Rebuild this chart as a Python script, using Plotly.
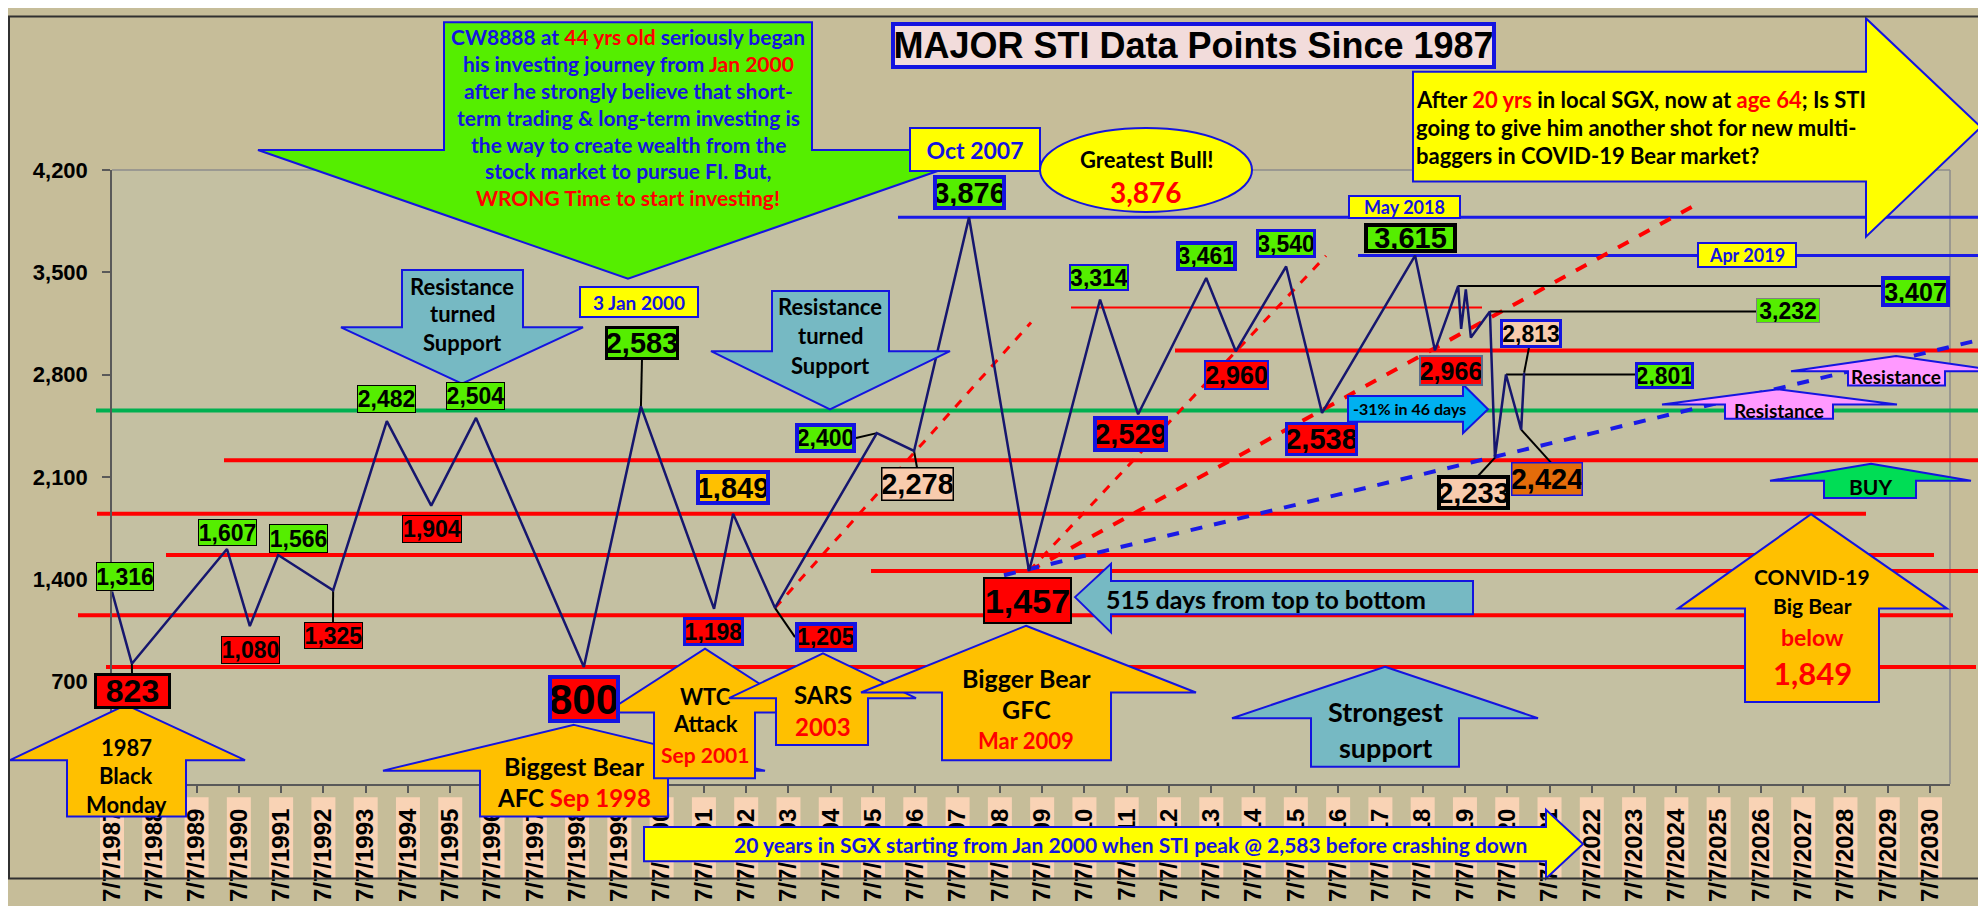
import plotly.graph_objects as go

# ---------------- data ----------------
years = [1987.00, 1987.47, 1989.72, 1990.26, 1990.93, 1992.23, 1993.50, 1994.55, 1995.61,
         1998.16, 1999.51, 2001.24, 2001.69, 2002.68, 2005.09, 2005.97, 2007.27, 2008.69,
         2010.37, 2011.27, 2012.88, 2013.58, 2014.77, 2015.62, 2017.82, 2018.29, 2018.84,
         2018.91, 2019.02, 2019.14, 2019.59, 2019.71, 2019.97, 2020.33, 2020.40]
sti = [1316, 823, 1607, 1080, 1566, 1325, 2482, 1904, 2504,
       800, 2583, 1198, 1849, 1205, 2400, 2278, 3876, 1457,
       3314, 2529, 3461, 2960, 3540, 2538, 3615, 2966, 3407,
       3113, 3383, 3054, 3232, 2233, 2801, 2424, 2813]
tick_years = list(range(1987, 2031))
tick_text = [f"7/7/{y}" for y in tick_years]
y_ticks = [700, 1400, 2100, 2800, 3500, 4200]
y_tick_text = [f"{v:,}" for v in y_ticks]
red_levels = [800, 1155, 1457, 1566, 1849, 2215, 2966, 3260]
green_levels = [2555]
blue_levels = [3876, 3615]

# ---------------- geometry helpers ----------------
W, H = 1986, 906
L, R, T, B = 104, 1942, 162, 806
X0 = 1987
X1 = X0 + (R - L) / 42.28
Y0, Y1 = 0, 4200


def px(x):
    return (x - L) / (R - L)


def py(y):
    return (B - y) / (B - T)


def dx(yr):
    return L + (yr - X0) / (X1 - X0) * (R - L)


def dy(v):
    return B - (v - Y0) / (Y1 - Y0) * (B - T)


NUM = "Liberation Sans Narrow, Arial Narrow, sans-serif"
REG = "Liberation Sans, Arial, sans-serif"
CAL = "Lato, Calibri, sans-serif"
BLUE = "#1414E0"
NAVY = "#16166E"
GREEN = "#55EE00"
RED = "#FF0000"
ORANGE = "#FFC000"
PEACH = "#F8CBAD"
DKORANGE = "#E46C0A"
TEAL = "#76B9C3"
PINK = "#FF99FF"
YELLOW = "#FFFF00"

shapes = []
annotations = []


def hline(value, x0, x1, color, width, layer="below"):
    shapes.append(dict(type="line", xref="paper", yref="y", x0=px(x0), x1=px(x1),
                       y0=value, y1=value, line=dict(color=color, width=width), layer=layer))


def seg(p0, p1, color="black", width=2, dash="solid", layer="below"):
    shapes.append(dict(type="line", xref="paper", yref="paper", x0=px(p0[0]), y0=py(p0[1]),
                       x1=px(p1[0]), y1=py(p1[1]), line=dict(color=color, width=width, dash=dash),
                       layer=layer))


def poly(pts, fill, line=BLUE, lw=2):
    d = "M " + " L ".join(f"{px(x):.5f},{py(y):.5f}" for x, y in pts) + " Z"
    shapes.append(dict(type="path", xref="paper", yref="paper", path=d, fillcolor=fill,
                       line=dict(color=line, width=lw), layer="above"))


def box(text, x0, x1, y0, y1, bg, border, bw, size, color="black", family=NUM):
    annotations.append(dict(x=px((x0 + x1) / 2), y=py((y0 + y1) / 2), xref="paper", yref="paper",
                            text=f"<b>{text}</b>", showarrow=False, xanchor="center", yanchor="middle",
                            bgcolor=bg, bordercolor=border, borderwidth=bw, borderpad=0,
                            width=max(1, (x1 - x0) - 2 * bw), height=max(1, (y1 - y0) - 2 * bw),
                            font=dict(family=family, size=size, color=color)))


def txt(text, x, y, size, color="black", anchor="center", family=CAL):
    annotations.append(dict(x=px(x), y=py(y), xref="paper", yref="paper", text=f"<b>{text}</b>",
                            showarrow=False, xanchor=anchor, yanchor="middle",
                            font=dict(family=family, size=size, color=color)))


def red(s):
    return f"<span style='color:{RED}'>{s}</span>"


# ---------------- figure ----------------
fig = go.Figure()
fig.add_trace(go.Scatter(x=years, y=sti, mode="lines", line=dict(color=NAVY, width=2.5),
                         hoverinfo="skip", showlegend=False))

# tick label backgrounds
for yr in tick_years:
    c = dx(yr)
    shapes.append(dict(type="rect", xref="paper", yref="paper", x0=px(c - 12), x1=px(c + 12),
                       y0=py(820), y1=py(906), fillcolor="#F9D3B5", line=dict(width=0), layer="below"))

# plot border (top/right)
seg((L, T), (R, T), color="#8C8C8C", width=1.5)
seg((R, T), (R, B), color="#8C8C8C", width=1.5)

# level lines
red_ext = {800: (98, 1968, 4), 1155: (70, 1945, 4), 1457: (863, 1974, 4), 1566: (158, 1926, 4),
           1849: (89, 1858, 4), 2215: (216, 1984, 4), 2966: (1167, 1980, 4), 3260: (1063, 1474, 2)}
for v in red_levels:
    a, b, w = red_ext[v]
    hline(v, a, b, RED, w)
for v in green_levels:
    hline(v, 88, 1982, "#00B050", 4)
blue_ext = {3876: (890, 1983), 3615: (1350, 1978)}
for v in blue_levels:
    a, b = blue_ext[v]
    hline(v, a, b, "#1A1AE6", 3)


def pt(i):
    return (dx(years[i]), dy(sti[i]))


# trend lines
seg(pt(13), (1023, 322), color=RED, width=3, dash="dash")
seg(pt(17), (1318, 252), color=RED, width=3, dash="dash")
seg(pt(17), (1685, 200), color=RED, width=4, dash="dash")
seg((996, 587), (1968, 341), color="#1A1AE6", width=4, dash="dash")

# leaders
seg(pt(26), (1873, dy(sti[26])))
seg(pt(30), (1748, dy(sti[30])))
seg(pt(32), (1627, dy(sti[32])))
seg(pt(31), (1470, 483))
seg(pt(33), (1543, 469))
seg(pt(34), (1521, 348))
seg(pt(10), (634, 360))
seg(pt(5), (325, 637))
seg(pt(15), (909, 474))
seg(pt(14), (848, 443))
seg(pt(13), (787, 652))
seg(pt(1), (124, 690))

# ---- arrows ----
poly([(436, 7), (804, 7), (804, 141), (990, 141), (620, 276), (250, 141), (436, 141)], GREEN)
poly([(1405, 59), (1858, 59), (1858, 3), (1973, 117), (1858, 232), (1858, 174), (1405, 174)], YELLOW)
poly([(394, 267), (515, 267), (515, 327), (575, 327), (454, 386), (333, 327), (394, 327)], TEAL)
poly([(764, 289), (881, 289), (881, 352), (942, 352), (822, 413), (703, 352), (764, 352)], TEAL)
poly([(1888, 357), (1994, 373), (1937, 373), (1937, 388), (1840, 388), (1840, 373), (1783, 373)], PINK)
poly([(1770, 392), (1889, 408), (1825, 408), (1825, 423), (1717, 423), (1717, 408), (1654, 408)], PINK)
poly([(1863, 470), (1963, 488), (1908, 488), (1908, 506), (1816, 506), (1816, 488), (1762, 488)], "#00DD55")
poly([(1803, 523), (1939, 622), (1871, 622), (1871, 720), (1737, 720), (1737, 622), (1670, 622)], ORANGE)
poly([(1340, 399), (1455, 399), (1455, 387), (1480, 413), (1455, 438), (1455, 426), (1340, 426)], "#00B0F0")
poly([(1067, 610), (1103, 575), (1103, 593), (1465, 593), (1465, 628), (1103, 628), (1103, 647)], TEAL)
poly([(118, 723), (237, 781), (178, 781), (178, 840), (59, 840), (59, 781), (2, 781)], ORANGE)
poly([(566, 744), (757, 792), (660, 792), (660, 840), (472, 840), (472, 792), (375, 792)], ORANGE)
poly([(697, 664), (796, 731), (747, 731), (747, 800), (646, 800), (646, 731), (598, 731)], ORANGE)
poly([(815, 669), (908, 716), (860, 716), (860, 765), (768, 765), (768, 716), (721, 716)], ORANGE)
poly([(1018, 640), (1188, 710), (1103, 710), (1103, 781), (934, 781), (934, 710), (853, 710)], ORANGE)
poly([(1377, 683), (1530, 737), (1451, 737), (1451, 788), (1303, 788), (1303, 737), (1224, 737)], TEAL)
poly([(636, 851), (1538, 851), (1538, 833), (1575, 869), (1538, 905), (1538, 887), (636, 887)], YELLOW)
shapes.append(dict(type="circle", xref="paper", yref="paper", x0=px(1032), x1=px(1244),
                   y0=py(206), y1=py(118), fillcolor=YELLOW, line=dict(color=BLUE, width=2),
                   layer="above"))
shapes.append(dict(type="rect", xref="paper", yref="paper", x0=px(1), x1=px(W - 1), y0=py(H - 1),
                   y1=py(1), line=dict(color="#303030", width=2), layer="above"))

# ---- texts in arrows ----
green_lines = [
    f"CW8888 at {red('44 yrs old')} seriously began",
    f"his investing journey from {red('Jan 2000')}",
    "after he strongly believe that short-",
    "term trading &amp; long-term investing is",
    "the way to create wealth from the",
    "stock market to pursue FI. But,",
    red("WRONG Time to start investing!"),
]
for i, s in enumerate(green_lines):
    txt(s, 620, 22 + i * 28.2, 21, color=BLUE)

yellow_lines = [
    f"After {red('20 yrs')} in local SGX, now at {red('age 64')}; Is STI",
    "going to give him another shot for new multi-",
    "baggers in COVID-19 Bear market?",
]
for i, s in enumerate(yellow_lines):
    txt(s, 1406, 88 + i * 29.5, 22, anchor="left")

for cx, ys in [(454, (284, 313, 343)), (822, (305, 336, 367))]:
    for s, yy in zip(["Resistance", "turned", "Support"], ys):
        txt(s, cx, yy, 22)
txt("Resistance", 1888, 379, 19)
txt("Resistance", 1771, 414, 19)
txt("BUY", 1862, 494, 21)
txt("CONVID-19", 1804, 588, 21)
txt("Big Bear", 1804, 619, 21)
txt(red("below"), 1804, 652, 23)
txt(red("1,849"), 1804, 690, 31)
txt("-31% in 46 days", 1343, 412, 16, anchor="left")
txt("515 days from top to bottom", 1258, 612, 25)
txt("1987", 118, 768, 22)
txt("Black", 118, 797, 22)
txt("Monday", 118, 828, 22)
txt("Biggest Bear", 566, 787, 25)
txt(f"AFC {red('Sep 1998')}", 566, 820, 24)
txt("WTC", 697, 714, 22)
txt("Attack", 697, 743, 22)
txt(red("Sep 2001"), 697, 775, 21)
txt("SARS", 815, 712, 24)
txt(red("2003"), 815, 746, 24)
txt("Bigger Bear", 1018, 695, 25)
txt("GFC", 1018, 727, 25)
txt(red("Mar 2009"), 1018, 760, 22)
txt("Strongest", 1377, 730, 27)
txt("support", 1377, 768, 27)
txt("20 years in SGX starting from Jan 2000 when STI peak @ 2,583 before crashing down",
    1122, 869, 21, color=BLUE)
txt("Greatest Bull!", 1138, 151, 22)
txt(red(f"{sti[16]:,}"), 1138, 185, 28)

# ---- title & date boxes ----
box("MAJOR STI Data Points Since 1987", 883, 1488, 8, 55, "#F2DCDB", BLUE, 4, 36, family=REG)
box("3 Jan 2000", 571, 691, 284, 316, YELLOW, BLUE, 2, 19, color=BLUE, family=CAL)
box("Oct 2007", 901, 1033, 118, 163, YELLOW, BLUE, 2, 23, color=BLUE, family=CAL)
box("May 2018", 1340, 1453, 189, 213, YELLOW, BLUE, 2, 18, color=BLUE, family=CAL)
box("Apr 2019", 1689, 1789, 238, 264, YELLOW, BLUE, 2, 18, color=BLUE, family=CAL)

# ---- value labels ----
label_style = {
    0: ((88, 146, 574, 603), GREEN, "black", 1, 23),
    1: ((86, 163, 690, 726), RED, "black", 3, 32),
    2: ((190, 249, 529, 556), GREEN, "black", 1, 23),
    3: ((213, 272, 651, 679), RED, "black", 1, 23),
    4: ((261, 320, 534, 563), GREEN, "black", 1, 23),
    5: ((296, 355, 637, 664), RED, "black", 1, 23),
    6: ((349, 408, 388, 416), GREEN, "black", 1, 23),
    7: ((394, 454, 525, 553), RED, "black", 1, 23),
    8: ((438, 497, 385, 413), GREEN, "black", 1, 23),
    9: ((540, 612, 693, 741), RED, BLUE, 4, 42),
    10: ((597, 671, 326, 360), GREEN, "black", 3, 29),
    11: ((675, 736, 632, 661), RED, BLUE, 3, 23),
    12: ((688, 762, 478, 513), ORANGE, BLUE, 4, 29),
    13: ((787, 849, 637, 667), RED, BLUE, 4, 23),
    14: ((787, 848, 428, 458), GREEN, BLUE, 4, 23),
    15: ((873, 946, 474, 508), PEACH, "black", 1.5, 29),
    16: ((925, 998, 168, 203), GREEN, BLUE, 4, 29),
    17: ((975, 1064, 590, 637), RED, "black", 2, 34),
    18: ((1061, 1121, 261, 288), GREEN, BLUE, 2, 23),
    19: ((1085, 1160, 421, 457), RED, BLUE, 4, 29),
    20: ((1168, 1229, 237, 267), GREEN, BLUE, 4, 23),
    21: ((1196, 1261, 362, 392), RED, BLUE, 2, 25),
    22: ((1248, 1308, 225, 254), GREEN, BLUE, 3, 23),
    23: ((1277, 1350, 427, 461), RED, BLUE, 3, 29),
    24: ((1356, 1449, 218, 248), GREEN, "black", 4, 29),
    25: ((1411, 1475, 357, 388), RED, "#5A6B8C", 2, 25),
    26: ((1873, 1942, 274, 305), GREEN, BLUE, 4, 25),
    30: ((1748, 1812, 297, 322), GREEN, "#808080", 1, 23),
    31: ((1429, 1502, 483, 518), PEACH, "black", 4, 29),
    32: ((1627, 1686, 364, 391), GREEN, BLUE, 3, 23),
    33: ((1503, 1575, 469, 503), DKORANGE, BLUE, 1.5, 29),
    34: ((1492, 1554, 319, 348), PEACH, BLUE, 3, 23),
}
for i, (bb, bg, bc, bw, fs) in label_style.items():
    box(f"{sti[i]:,}", bb[0], bb[1], bb[2], bb[3], bg, bc, bw, fs)

fig.update_layout(
    width=W, height=H,
    margin=dict(l=L, r=W - R, t=T, b=H - B, pad=0),
    paper_bgcolor="#C6BD99",
    plot_bgcolor="#C4C0A2",
    showlegend=False,
    xaxis=dict(range=[X0, X1], tickmode="array", tickvals=tick_years, ticktext=tick_text,
               tickangle=-90, tickfont=dict(family=NUM, size=24, color="black", weight="bold"),
               ticks="outside", ticklen=7, tickwidth=1.5, tickcolor="#595959",
               showline=True, linecolor="#595959", linewidth=2, showgrid=False, zeroline=False,
               ticklabelstandoff=6),
    yaxis=dict(range=[Y0, Y1], tickmode="array", tickvals=y_ticks, ticktext=y_tick_text,
               tickfont=dict(family=REG, size=22, color="black", weight="bold"),
               ticks="outside", ticklen=8, tickwidth=1.5, tickcolor="#595959",
               showline=True, linecolor="#595959", linewidth=1.5, showgrid=False, zeroline=False,
               ticklabelstandoff=10),
    shapes=shapes,
    annotations=annotations,
)

fig.write_html("out.html")
